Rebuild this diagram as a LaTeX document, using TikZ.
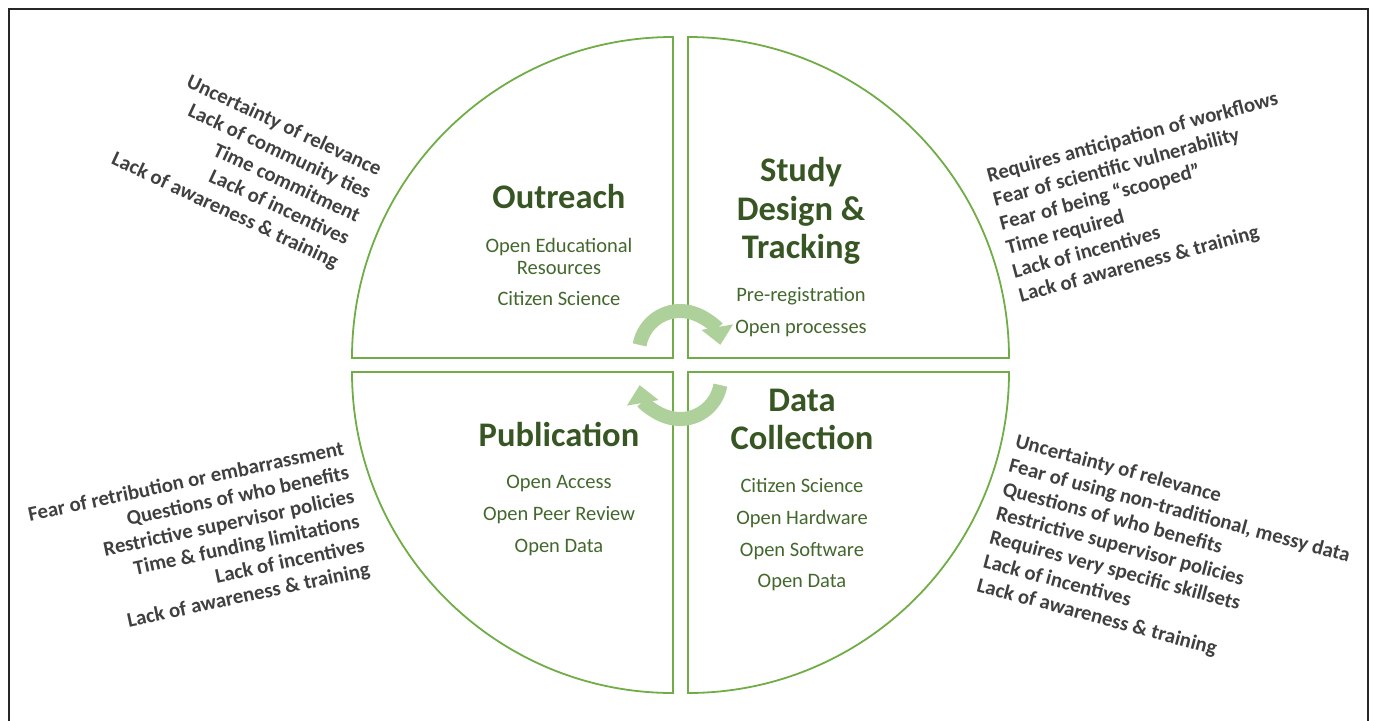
\documentclass[tikz,border=0pt]{standalone}
\usepackage{fontspec}
\setmainfont{Carlito}
\usetikzlibrary{arrows.meta}
\definecolor{quadgreen}{HTML}{70AD47}
\definecolor{headgreen}{HTML}{375623}
\definecolor{itemgreen}{HTML}{43682D}
\definecolor{bargray}{HTML}{404040}
\definecolor{cyclegreen}{HTML}{AED09A}
\begin{document}
\begin{tikzpicture}[x=1pt, y=1pt,
  quad/.style={draw=quadgreen, line width=1.8pt},
  head/.style={font=\bfseries\fontsize{34.5}{38.5}\selectfont, text=headgreen, inner sep=0pt, anchor=base},
  item/.style={font=\fontsize{20.5}{23}\selectfont, text=itemgreen, inner sep=0pt, anchor=base},
  barrier/.style={font=\bfseries\fontsize{20.8}{24.8}\selectfont, text=bargray, inner sep=0pt},
  turn/.style={draw=cyclegreen, line width=14pt, -{Triangle[width=31pt,length=18pt]}}]
\clip (0,0) rectangle (1373,-720);
\draw[line width=1.2pt, black!85] (9,-9) rectangle (1368,-740);
% four quarters of the cycle
\draw[quad] (673,-358) -- (673,-37) arc[start angle=90, end angle=180, radius=321] -- cycle;
\draw[quad] (688,-37) -- (688,-358) -- (1009,-358) arc[start angle=0, end angle=90, radius=321] -- cycle;
\draw[quad] (673,-372) -- (352,-372) arc[start angle=180, end angle=270, radius=321] -- cycle;
\draw[quad] (688,-372) -- (688,-693) arc[start angle=270, end angle=360, radius=321] -- cycle;
% stage names
\foreach \n/\x/\y/\txt in {out/559/208/Outreach, st1/801/181.5/Study, st2/801/220.5/Design \&, st3/801/258.5/Tracking, dc1/802/411.5/Data, dc2/802/449.5/Collection, pub/559/446.5/Publication}
  \node[head] (\n) at (\x,-\y) {\txt};
% open practices
\foreach \n/\x/\y/\txt in {oer/559/252/Open Educational, res/559/274.5/Resources, ocs/559/305.5/Citizen Science, pre/801/301/Pre-registration, opp/801/333/Open processes, dcs/802/492/Citizen Science, ohw/802/524/Open Hardware, osw/802/556/Open Software, odc/802/587/Open Data, oac/559/488/Open Access, opr/559/520/Open Peer Review, opd/559/552/Open Data}
  \node[item] (\n) at (\x,-\y) {\txt};
% barriers
\node[barrier, rotate=-25, align=right, anchor=north east, font=\bfseries\fontsize{20.8}{25.4}\selectfont] (bar-out) at (384,-163) {Uncertainty of relevance\\Lack of community ties\\Time commitment\\Lack of incentives\\Lack of awareness \& training};
\node[barrier, rotate=15, align=left, anchor=north west] (bar-study) at (985,-168) {Requires anticipation of workflows\\Fear of scientific vulnerability\\Fear of being ``scooped''\\Time required\\Lack of incentives\\Lack of awareness \& training};
\node[barrier, rotate=12, align=right, anchor=north east] (bar-pub) at (342,-440) {Fear of retribution or embarrassment\\Questions of who benefits\\Restrictive supervisor policies\\Time \& funding limitations\\Lack of incentives\\Lack of awareness \& training};
\node[barrier, rotate=-15, align=left, anchor=north west] (bar-data) at (1018,-433) {Uncertainty of relevance\\Fear of using non-traditional, messy data\\Questions of who benefits\\Restrictive supervisor policies\\Requires very specific skillsets\\Lack of incentives\\Lack of awareness \& training};
% cycle arrows
\coordinate (hub-top) at (680,-352);
\coordinate (hub-bot) at (680,-378);
\draw[turn] ([shift={(170:41)}]hub-top) arc[start angle=170, end angle=10, radius=41];
\draw[turn] ([shift={(-10:41)}]hub-bot) arc[start angle=-10, end angle=-170, radius=41];
\end{tikzpicture}
\end{document}
